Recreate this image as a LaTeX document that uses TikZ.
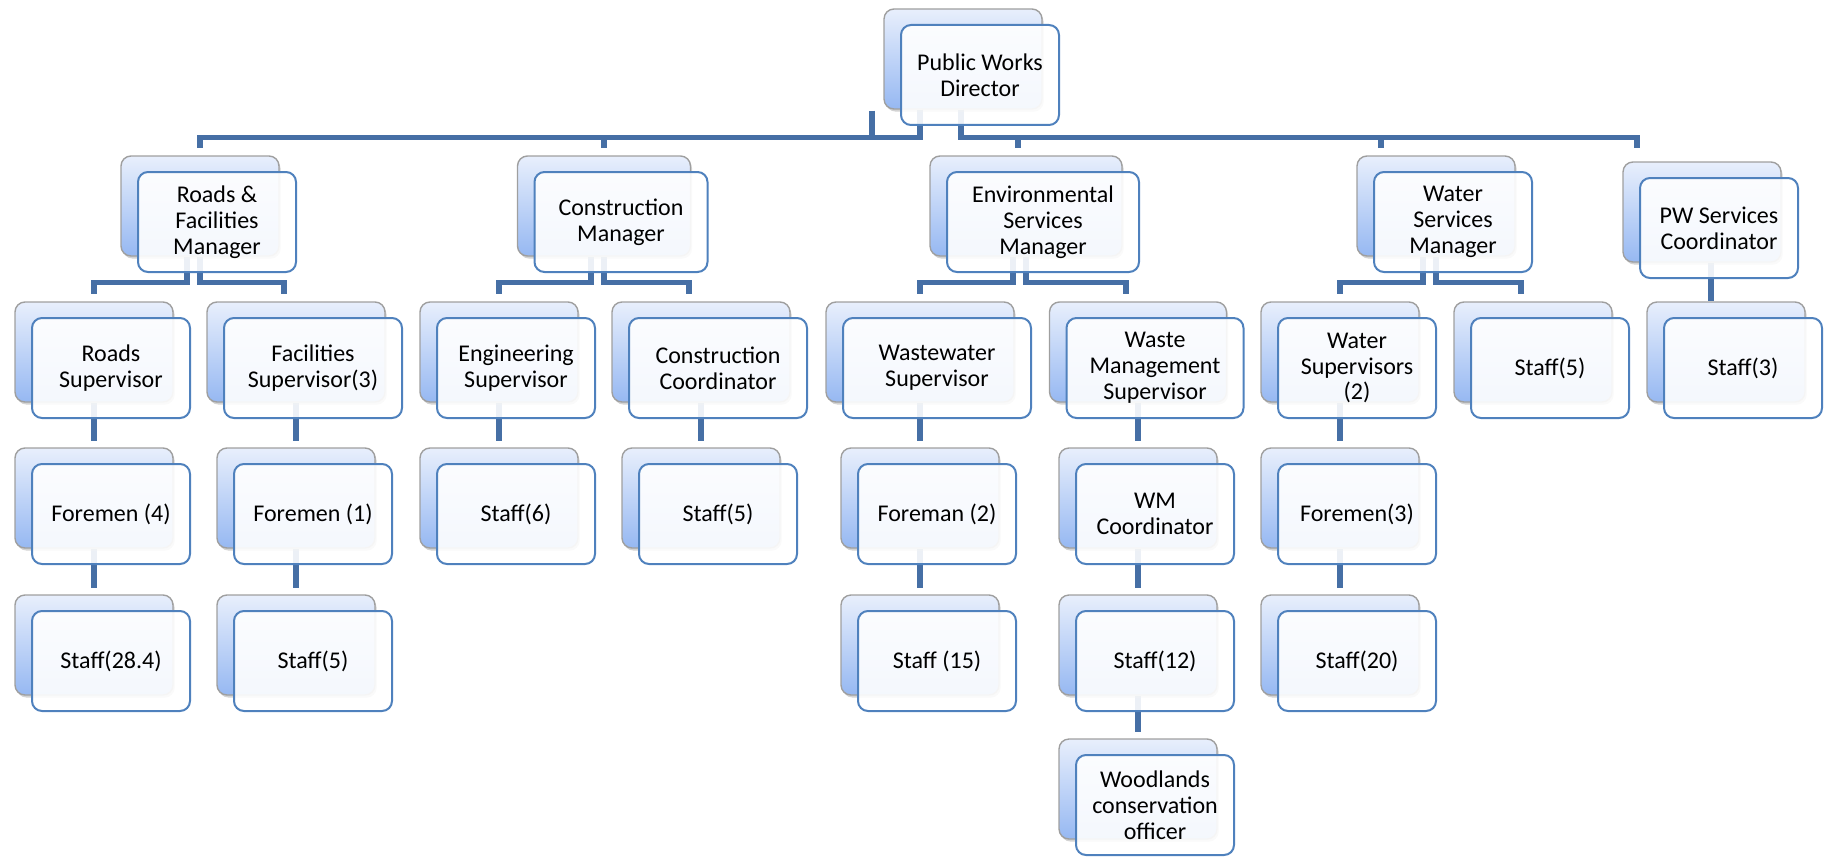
\documentclass[tikz,border=0pt]{standalone}
\usepackage{fontspec}
\setmainfont{Carlito}
\usetikzlibrary{calc,shadows,backgrounds}
\definecolor{linkblue}{RGB}{70,111,165}
\definecolor{edgeblue}{RGB}{79,129,189}
\definecolor{backtop}{RGB}{232,239,252}
\definecolor{backbot}{RGB}{150,184,242}
\begin{document}
\begin{tikzpicture}[x=0.5pt, y=-0.5pt,
                backcard/.style={draw=gray!75, line width=0.7pt, rounded corners=5pt,
                        top color=backtop, bottom color=backbot, minimum height=50pt, inner sep=0pt,
                        drop shadow={shadow xshift=0.8pt, shadow yshift=-1.3pt, opacity=0.35}},
                frontcard/.style={draw=edgeblue, line width=1pt, rounded corners=5pt,
                        fill=white, fill opacity=0.9, text opacity=1, minimum height=50pt, inner sep=0pt,
                        align=center, font=\fontsize{12pt}{12.9pt}\selectfont},
                link/.style={draw=linkblue, line width=2.6pt}]
                \useasboundingbox (0,0) rectangle (1824,856);

                \foreach \n/\x/\y/\w/\t in {
                                dir/980/75/158/{Public Works\\Director},
                                rf/217/222/158/{Roads \&\\Facilities\\Manager},
                                cm/621/222/173/{Construction\\Manager},
                                es/1043/222/192/{Environmental\\Services\\Manager},
                                ws/1453/222/158/{Water\\Services\\Manager},
                                pw/1719/228/158/{PW Services\\Coordinator},
                                rs/111/368/158/{Roads\\Supervisor},
                                fs/313/368/178/{Facilities\\Supervisor(3)},
                                eng/516/368/158/{Engineering\\Supervisor},
                                cc/718/368/178/{Construction\\Coordinator},
                                ww/937/368/188/{Wastewater\\Supervisor},
                                wm/1155/368/177/{Waste\\Management\\Supervisor},
                                wsup/1357/368/158/{Water\\Supervisors\\(2)},
                                st5/1550/368/158/{Staff(5)},
                                st3/1743/368/158/{Staff(3)},
                                f4/111/514/158/{Foremen (4)},
                                f1/313/514/158/{Foremen (1)},
                                s6/516/514/158/{Staff(6)},
                                s5b/718/514/158/{Staff(5)},
                                f2/937/514/158/{Foreman (2)},
                                wmc/1155/514/158/{WM\\Coordinator},
                                f3/1357/514/158/{Foremen(3)},
                                s28/111/661/158/{Staff(28.4)},
                                s5c/313/661/158/{Staff(5)},
                                s15/937/661/158/{Staff (15)},
                                s12/1155/661/158/{Staff(12)},
                                s20/1357/661/158/{Staff(20)},
                                wood/1155/805/158/{Woodlands\\conservation\\officer}} {
                                \node[backcard, minimum width=\w*0.5pt] (\n-b) at (\x-17,\y-16) {};
                                \node[frontcard, minimum width=\w*0.5pt] (\n) at (\x,\y) {\t};
                        }

                \begin{scope}[on background layer]
                        \draw[link] ($(dir-b.south)+(-43,0)$) |- ($(rf-b.north)+(0,-18)$) -- ($(rf-b.north)+(0,-7)$);
                        \draw[link] ($(dir-b.south)+(-2,0)$) |- ($(pw-b.north)+(-65,-24)$) -- ($(pw-b.north)+(-65,-13)$);
                        \draw[link] ($(dir-b.south)+(-91,1)$) -- ++(0,28);
                        \draw[link] ($(cm-b.north)+(0,-18)$) -- ($(cm-b.north)+(0,-7)$);
                        \draw[link] ($(es-b.north)+(-8,-18)$) -- ($(es-b.north)+(-8,-7)$);
                        \draw[link] ($(ws-b.north)+(-55,-18)$) -- ($(ws-b.north)+(-55,-7)$);

                        \foreach \p/\l/\r in {rf/rs/fs, cm/eng/cc, es/ww/wm, ws/wsup/st5} {
                                \draw[link] ($(\p-b.south)+(-13,0)$) |- ($(\l-b.north)+(0,-19)$) -- ($(\l-b.north)+(0,-7)$);
                                \draw[link] (\p-b.south) |- ($(\r-b.north)+(-12,-19)$) -- ($(\r-b.north)+(-12,-7)$);
                        }
                        \draw[link] ($(pw-b.south)+(9,0)$) -- ($(st3-b.north)+(-15,0)$);

                        \foreach \a/\b in {rs/f4, f4/s28, fs/f1, f1/s5c, eng/s6, cc/s5b, ww/f2, f2/s15,
                                        wm/wmc, wmc/s12, s12/wood, wsup/f3, f3/s20} {
                                \draw[link] (\a-b.south) -- ($(\a-b.south |- \b-b.north)+(0,-6)$);
                        }
                \end{scope}
\end{tikzpicture}
\end{document}
